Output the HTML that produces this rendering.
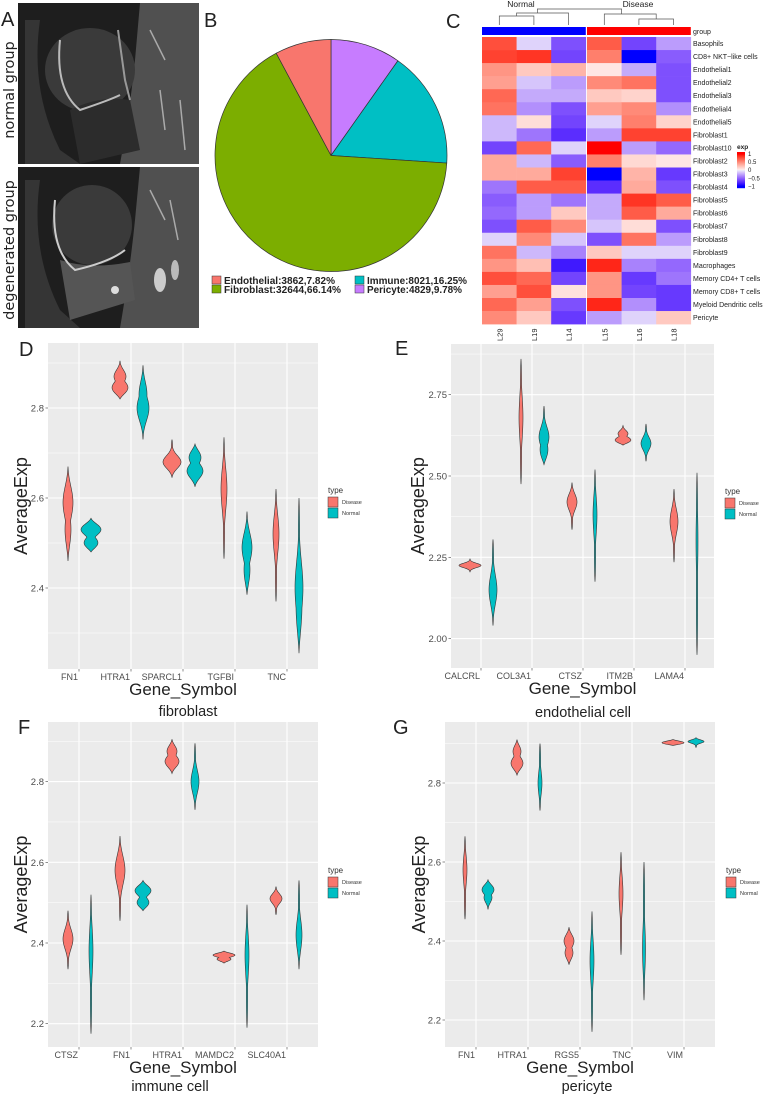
<!DOCTYPE html>
<html><head><meta charset="utf-8"><style>
html,body{margin:0;padding:0;background:#fff;}
svg{display:block;font-family:"Liberation Sans",sans-serif;}
</style></head><body>
<svg id="fig" xmlns="http://www.w3.org/2000/svg" width="765" height="1095" viewBox="0 0 765 1095">
<!-- Panel A -->
<g>
<g>
<rect x="18" y="3" width="181" height="161" fill="#1e1e1e"/>
<path d="M140 3 L199 3 L199 164 L120 164 Q130 110 135 60 Z" fill="#505050"/>
<path d="M40 20 Q30 90 60 150 L80 164 L25 164 L25 20Z" fill="#353535"/>
<ellipse cx="90" cy="70" rx="45" ry="42" fill="#3a3a3a"/>
<path d="M70 110 Q100 95 130 100 L140 150 L80 164 Z" fill="#2c2c2c"/>
<path d="M60 40 Q55 90 80 110 Q110 100 120 95" stroke="#bbb" stroke-width="2" fill="none"/>
<path d="M118 30 L125 80 L130 100" stroke="#999" stroke-width="2" fill="none"/>
<path d="M150 30 L165 60 M160 90 L165 130 M180 100 L185 150" stroke="#aaa" stroke-width="1.5" fill="none"/>
</g>
<g>
<rect x="18" y="167" width="181" height="161" fill="#1e1e1e"/>
<path d="M140 167 L199 167 L199 328 L120 328 Q130 270 135 220 Z" fill="#505050"/>
<path d="M40 180 Q30 250 60 310 L80 328 L25 328 L25 180Z" fill="#353535"/>
<ellipse cx="92" cy="225" rx="40" ry="40" fill="#3a3a3a"/>
<path d="M60 260 Q90 270 130 262 L135 300 L70 320 Z" fill="#555"/>
<path d="M55 200 Q50 250 75 270 Q110 262 125 250" stroke="#ccc" stroke-width="2" fill="none"/>
<ellipse cx="160" cy="280" rx="6" ry="12" fill="#ccc"/><ellipse cx="175" cy="270" rx="4" ry="10" fill="#bbb"/><ellipse cx="115" cy="290" rx="4" ry="4" fill="#ddd"/>
<path d="M150 190 L165 220 M170 200 L178 240" stroke="#aaa" stroke-width="1.5" fill="none"/>
</g>
<rect x="0" y="0" width="18" height="330" fill="#fff"/>
<text x="1" y="26" font-size="20" fill="#222">A</text>
<text transform="translate(14,90) rotate(-90)" text-anchor="middle" font-size="14.5" fill="#222" font-family="'DejaVu Sans',sans-serif">normal group</text>
<text transform="translate(14,250) rotate(-90)" text-anchor="middle" font-size="14.5" fill="#222" font-family="'DejaVu Sans',sans-serif">degenerated group</text>
</g>

<g id="pie">
<text x="204" y="27" font-size="20" fill="#222">B</text>
</g>

<g id="heat">
<text x="446" y="28" font-size="20" fill="#222">C</text>
</g>

<g id="pD"></g>
<g id="pE"></g>
<g id="pF"></g>
<g id="pG"></g>
</svg>
<script>
// ---------- Pie data ----------
const pieLabels = ["Pericyte","Immune","Fibroblast","Endothelial"];
const pieCounts = [4829, 8021, 32644, 3862];
const pieColors = ["#C77CFF","#00BFC4","#7CAE00","#F8766D"];
const legendText = ["Endothelial:3862,7.82%","Immune:8021,16.25%","Fibroblast:32644,66.14%","Pericyte:4829,9.78%"];
const legendCols = ["#F8766D","#00BFC4","#7CAE00","#C77CFF"];

// ---------- Heatmap data ----------
const hmCols = ["L29","L19","L14","L15","L16","L18"];
const hmRows = ["Basophils","CD8+ NKT\u2212like cells","Endothelial1","Endothelial2","Endothelial3","Endothelial4","Endothelial5","Fibroblast1","Fibroblast10","Fibroblast2","Fibroblast3","Fibroblast4","Fibroblast5","Fibroblast6","Fibroblast7","Fibroblast8","Fibroblast9","Macrophages","Memory CD4+ T cells","Memory CD8+ T cells","Myeloid Dendritic cells","Pericyte"];
const hmVals = [
[0.75,-0.1,-0.6,0.7,-0.65,-0.3],
[0.8,0.85,-0.65,0.55,-1,-0.55],
[0.45,0.2,0.3,0.05,-0.25,-0.6],
[0.4,-0.15,-0.3,0.5,0.6,-0.6],
[0.65,-0.25,-0.25,0.2,0.15,-0.6],
[0.6,-0.35,-0.6,0.4,0.5,-0.35],
[-0.2,0.1,-0.65,-0.1,0.55,0.15],
[-0.2,-0.45,-0.75,-0.3,0.8,0.8],
[-0.65,0.65,-0.1,1,-0.3,-0.5],
[0.35,-0.2,-0.55,0.55,0.12,0.05],
[0.35,0.35,0.8,-1,0.3,-0.7],
[-0.45,0.7,0.7,-0.75,0.35,-0.6],
[-0.55,-0.3,-0.45,-0.25,0.85,0.7],
[-0.5,-0.3,0.2,-0.25,0.7,0.35],
[-0.6,0.7,0.5,-0.15,0.1,-0.6],
[-0.1,0.5,-0.15,-0.6,0.6,-0.3],
[0.6,-0.2,-0.4,0.2,-0.1,-0.1],
[0.45,0.25,-0.85,0.9,-0.4,-0.5],
[0.75,0.65,-0.65,0.45,-0.7,-0.45],
[0.4,0.75,0.08,0.45,-0.65,-0.7],
[0.65,0.4,-0.6,0.9,-0.35,-0.7],
[0.5,0.2,-0.7,-0.3,-0.1,0.2]];
const hmLegendTicks = [1,0.5,0,-0.5,-1];
const hmLegendLabels = ["1","0.5","0","\u22120.5","\u22121"];

// ---------- Violin data: each violin = [lo, hi, modes[], modeWidths[]] ----------
const dGenes = ["FN1","HTRA1","SPARCL1","TGFBI","TNC"];
const dDisease = [[2.46,2.67,[2.59,2.53],[5,3]],[2.82,2.905,[2.87,2.845],[6,8]],[2.645,2.73,[2.68],[9]],[2.465,2.735,[2.62],[3]],[2.37,2.62,[2.52],[3]]];
const dNormal = [[2.48,2.555,[2.53,2.5],[10,7]],[2.73,2.895,[2.8,2.83],[6,4]],[2.625,2.72,[2.69,2.66],[6,8]],[2.385,2.57,[2.49,2.44],[5,3]],[2.255,2.6,[2.4,2.36],[4,3]]];
const dTicks = [2.4,2.6,2.8];

const eGenes = ["CALCRL","COL3A1","CTSZ","ITM2B","LAMA4"];
const eDisease = [[2.205,2.245,[2.225],[11]],[2.475,2.86,[2.68],[2]],[2.335,2.48,[2.42],[5]],[2.595,2.655,[2.63,2.61],[5,8]],[2.235,2.46,[2.36],[4]]];
const eNormal = [[2.04,2.305,[2.15],[4]],[2.535,2.715,[2.62,2.58],[5,4]],[2.175,2.52,[2.38],[2]],[2.545,2.66,[2.6],[5]],[1.95,2.51,[2.3],[1]]];
const eTicks = [2.0,2.25,2.5,2.75];
const eTickLabels = ["2.00","2.25","2.50","2.75"];

const fGenes = ["CTSZ","FN1","HTRA1","MAMDC2","SLC40A1"];
const fDisease = [[2.335,2.48,[2.41],[5]],[2.455,2.665,[2.58],[5]],[2.82,2.905,[2.875,2.85],[5,7]],[2.35,2.38,[2.37,2.36],[11,7]],[2.47,2.54,[2.51],[6]]];
const fNormal = [[2.175,2.52,[2.38],[2]],[2.48,2.555,[2.53,2.5],[8,6]],[2.73,2.895,[2.8],[4]],[2.19,2.495,[2.37],[2]],[2.335,2.555,[2.42],[3]]];
const fTicks = [2.2,2.4,2.6,2.8];

const gGenes = ["FN1","HTRA1","RGS5","TNC","VIM"];
const gDisease = [[2.455,2.665,[2.58],[2]],[2.82,2.91,[2.88,2.85],[4,6]],[2.34,2.435,[2.4,2.37],[5,4]],[2.365,2.625,[2.52],[2]],[2.895,2.91,[2.902],[11]]];
const gNormal = [[2.48,2.555,[2.53,2.51],[6,4]],[2.73,2.9,[2.8],[2]],[2.17,2.475,[2.35],[2]],[2.25,2.6,[2.38],[1.5]],[2.89,2.915,[2.905],[8]]];
const gTicks = [2.2,2.4,2.6,2.8];

const NS = "http://www.w3.org/2000/svg";
function mk(tag, attrs, parent){ const e=document.createElementNS(NS,tag); for(const k in attrs) e.setAttribute(k,attrs[k]); parent.appendChild(e); return e; }

// ----- Pie -----
(function(){
  const g=document.getElementById('pie');
  const cx=331, cy=155.5, r=116;
  const total=pieCounts.reduce((a,b)=>a+b,0);
  let a0=0;
  pieCounts.forEach((c,i)=>{
    const a1=a0+c/total*2*Math.PI;
    const x0=cx+r*Math.sin(a0), y0=cy-r*Math.cos(a0), x1=cx+r*Math.sin(a1), y1=cy-r*Math.cos(a1);
    const large=(a1-a0)>Math.PI?1:0;
    const p=mk('path',{d:`M${cx},${cy} L${x0},${y0} A${r},${r} 0 ${large} 1 ${x1},${y1} Z`,fill:pieColors[i],stroke:'#333','stroke-width':0.7},g);
    
    
    a0=a1;
  });
  const pos=[[212,276],[355,276],[212,285],[355,285]];
  const lens=[111,100,117,95];
  legendText.forEach((t,i)=>{
    const b=mk('rect',{x:pos[i][0],y:pos[i][1],width:9,height:8,fill:legendCols[i],stroke:'#333','stroke-width':0.5},g);
    
    
    const tx=mk('text',{x:pos[i][0]+12,y:pos[i][1]+8,'font-size':10,'font-weight':'bold',fill:'#222',textLength:lens[i],lengthAdjust:'spacingAndGlyphs'},g);
    tx.textContent=t;
    
    
  });
})();

// ----- Heatmap -----
function hmColor(v){
  v=Math.max(-1,Math.min(1,v));
  let c;
  if(v>=0){ c=[255, 240*Math.pow(1-v,0.8), 240*(1-v)]; if(v<0.02) c=[242,240,240]; }
  else { const t=-v; c=[240*Math.pow(1-t,0.7), 240*Math.pow(1-t,1.2), 250+5*t]; }
  return `rgb(${c.map(x=>Math.round(x)).join(',')})`;
}
(function(){
  const g=document.getElementById('heat');
  const top=37, rh=13.05, cw=34.6;
  const colX=i=> i<3 ? 482+i*cw : 587+(i-3)*cw;
  const dl=mk('path',{d:[
    `M${colX(0)+cw/2},25 V16 H${colX(1)+cw/2} V25`,
    `M${(colX(0)+colX(1))/2+cw/2},16 V13 H${colX(2)+cw/2} V25`,
    `M${colX(4)+cw/2},25 V19 H${colX(5)+cw/2} V25`,
    `M${colX(3)+cw/2},25 V14 H${(colX(4)+colX(5))/2+cw/2} V19`,
    `M${(colX(0)+colX(2))/2+cw*0.6},13 V9 H${(colX(3)+colX(5))/2} V14`].join(' '),stroke:'#555','stroke-width':0.7,fill:'none'},g);
  
  
  const n1=mk('text',{x:521,y:7,'font-size':8.5,fill:'#222','text-anchor':'middle'},g); n1.textContent='Normal';
  
  
  const n2=mk('text',{x:638,y:7,'font-size':8.5,fill:'#222','text-anchor':'middle'},g); n2.textContent='Disease';
  
  
  const gb1=mk('rect',{x:482,y:27,width:3*cw,height:8,fill:'#0000FF'},g);
  
  
  const gb2=mk('rect',{x:587,y:27,width:3*cw,height:8,fill:'#FF0000'},g);
  
  
  const gl=mk('text',{x:693,y:34,'font-size':7,fill:'#222'},g); gl.textContent='group';
  
  
  hmVals.forEach((row,r)=>{
    row.forEach((v,c)=>{
      const cell=mk('rect',{x:colX(c),y:top+r*rh,width:cw+0.3,height:rh+0.3,fill:hmColor(v)},g);
      
      
    });
    const t=mk('text',{x:693,y:top+r*rh+rh/2+2.5,'font-size':7,fill:'#222'},g); t.textContent=hmRows[r];
    
    
  });
  hmCols.forEach((c,i)=>{
    const x=colX(i)+cw/2+3;
    const t=mk('text',{transform:`translate(${x},341) rotate(-90)`,'font-size':7.5,fill:'#222'},g); t.textContent=c;
    
    
  });
  const lt=mk('text',{x:737,y:149,'font-size':6.5,'font-weight':'bold',fill:'#222'},g); lt.textContent='exp';
  
  
  const ly0=152, ly1=188;
  for(let k=0;k<36;k++){
    const v=1.1-2.2*k/35;
    const s=mk('rect',{x:737,y:ly0+k,width:8,height:1.2,fill:hmColor(v)},g);
    
    
  }
  hmLegendTicks.forEach((v,i)=>{
    const y=ly0+(1.1-v)/2.2*(ly1-ly0);
    const t=mk('text',{x:748,y:y+2.2,'font-size':6,fill:'#222'},g); t.textContent=hmLegendLabels[i];
    
    
  });
})();

// ----- Violin panels -----
function violinPath(v, cx, yPx){
  const [lo,hi,modes,ws]=v;
  const s=Math.max((hi-lo)/6,0.004);
  const n=48, left=[], right=[];
  for(let i=0;i<=n;i++){
    const y=lo+(hi-lo)*i/n;
    let w=0;
    modes.forEach((m,k)=>{ w=Math.max(w, ws[k]*Math.exp(-0.5*((y-m)/s)**2)); });
    const u=(2*y-lo-hi)/(hi-lo);
    w=Math.max(w,0.6)*(1-Math.pow(Math.abs(u),6));
    left.push([cx-w,yPx(y)]); right.push([cx+w,yPx(y)]);
  }
  const pts=left.concat(right.reverse());
  return 'M'+pts.map(p=>p[0].toFixed(2)+','+p[1].toFixed(2)).join(' L')+' Z';
}
function panel(cfg){
  const g=document.getElementById(cfg.id);
  const yPx=v=>cfg.y0px-(v-cfg.y0)*cfg.scale;
  const bg=mk('rect',{x:cfg.L,y:cfg.T,width:cfg.R-cfg.L,height:cfg.B-cfg.T,fill:'#EBEBEB'},g);
  
  
  const step=cfg.ticks[1]-cfg.ticks[0];
  for(let t=cfg.ticks[0]-step*2; t<=cfg.ticks[cfg.ticks.length-1]+step*2+1e-9; t+=step/2){
    const y=yPx(t);
    if(y<cfg.T||y>cfg.B) continue;
    const major=cfg.ticks.some(k=>Math.abs(k-t)<1e-6);
    const l=mk('line',{x1:cfg.L,x2:cfg.R,y1:y,y2:y,stroke:'#fff','stroke-width':major?1.1:0.5},g);
    
    
  }
  cfg.genes.forEach((gn,i)=>{
    const x=cfg.c0+cfg.step*i;
    const l=mk('line',{x1:x,x2:x,y1:cfg.T,y2:cfg.B,stroke:'#fff','stroke-width':1.1},g);
    
    
    const tk=mk('line',{x1:x,x2:x,y1:cfg.B,y2:cfg.B+2.5,stroke:'#444','stroke-width':0.6},g);
    
    
    const t=mk('text',{x:x-1,y:cfg.B+11,'font-size':9,fill:'#4d4d4d','text-anchor':'end'},g); t.textContent=gn;
    
    
  });
  cfg.ticks.forEach((v,i)=>{
    const y=yPx(v);
    const tk=mk('line',{x1:cfg.L-2.5,x2:cfg.L,y1:y,y2:y,stroke:'#444','stroke-width':0.6},g);
    
    
    const t=mk('text',{x:cfg.L-4,y:y+3.5,'font-size':9.5,fill:'#4d4d4d','text-anchor':'end'},g);
    t.textContent=cfg.tickLabels?cfg.tickLabels[i]:v.toFixed(1);
    
    
  });
  cfg.disease.forEach((v,i)=>{
    const p=mk('path',{d:violinPath(v,cfg.c0+cfg.step*i-11,yPx),fill:'#F8766D',stroke:'#333','stroke-width':0.6},g);
    
    
  });
  cfg.normal.forEach((v,i)=>{
    const p=mk('path',{d:violinPath(v,cfg.c0+cfg.step*i+12,yPx),fill:'#00BFC4',stroke:'#333','stroke-width':0.6},g);
    
    
  });
  const yt=mk('text',{transform:`translate(${cfg.ytx},${(cfg.T+cfg.B)/2}) rotate(-90)`,'font-size':18,fill:'#222','text-anchor':'middle'},g); yt.textContent='AverageExp';
  
  
  const xt=mk('text',{x:(cfg.L+cfg.R)/2,y:cfg.xty,'font-size':17,fill:'#222','text-anchor':'middle'},g); xt.textContent='Gene_Symbol';
  
  
  const ct=mk('text',{x:cfg.capx,y:cfg.capy,'font-size':14.5,fill:'#222','text-anchor':'middle'},g); ct.textContent=cfg.caption;
  
  
  const pl=mk('text',{x:cfg.letx,y:cfg.lety,'font-size':20,fill:'#222'},g); pl.textContent=cfg.letter;
  
  
  const ly=cfg.legy;
  const lt=mk('text',{x:cfg.legx,y:ly,'font-size':8,fill:'#333'},g); lt.textContent='type';
  
  
  [['Disease','#F8766D'],['Normal','#00BFC4']].forEach((d,k)=>{
    const b=mk('rect',{x:cfg.legx,y:ly+4+k*11,width:10,height:10,fill:d[1],stroke:'#333','stroke-width':0.5},g);
    
    
    const t=mk('text',{x:cfg.legx+14,y:ly+11+k*11,'font-size':5.5,fill:'#333'},g); t.textContent=d[0];
    
    
  });
}
panel({id:'pD',L:48,R:318,T:343,B:669,y0:2.4,y0px:588,scale:450,ticks:dTicks,genes:dGenes,disease:dDisease,normal:dNormal,c0:79,step:52,ytx:27,xty:695,capx:188,capy:716,caption:'fibroblast',letter:'D',letx:19,lety:356,legx:328,legy:493});
panel({id:'pE',L:451,R:714,T:344,B:668,y0:2.5,y0px:476,scale:325.2,ticks:eTicks,tickLabels:eTickLabels,genes:eGenes,disease:eDisease,normal:eNormal,c0:481,step:51,ytx:424,xty:694,capx:583,capy:717,caption:'endothelial cell',letter:'E',letx:395,lety:355,legx:725,legy:494});
panel({id:'pF',L:48,R:318,T:722,B:1047,y0:2.4,y0px:943,scale:403.5,ticks:fTicks,genes:fGenes,disease:fDisease,normal:fNormal,c0:79,step:52,ytx:27,xty:1073,capx:170,capy:1091,caption:'immune cell',letter:'F',letx:18,lety:734,legx:328,legy:873});
panel({id:'pG',L:445,R:715,T:722,B:1047,y0:2.4,y0px:941,scale:395,ticks:gTicks,genes:gGenes,disease:gDisease,normal:gNormal,c0:476,step:52,ytx:425,xty:1073,capx:587,capy:1091,caption:'pericyte',letter:'G',letx:393,lety:734,legx:726,legy:873});
</script>
</body></html>
